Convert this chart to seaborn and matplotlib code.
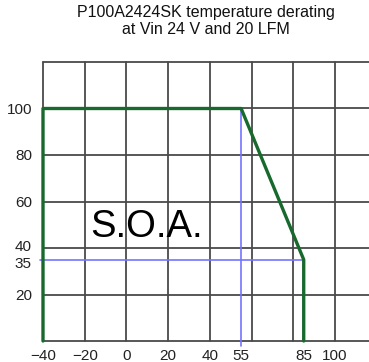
import numpy as np
import matplotlib
matplotlib.use("Agg")
import matplotlib.pyplot as plt
import matplotlib.transforms as mtransforms
import seaborn as sns
import pandas as pd

# derating curve
temp = [-40, -40, 55, 85, 85]
power = [0, 100, 100, 35, 0]

# guide lines
guide_h_x = [-41.5, 85]
guide_h_y = [35, 35]
guide_v_x = [55, 55]
guide_v_y = [100, -2]

xticks = [-40, -20, 0, 20, 40, 55, 85, 100]
yticks = [20, 35, 40, 60, 80, 100]
xgrid = [-40, -20, 0, 20, 40, 60, 80, 100, 120]
ygrid = [20, 40, 60, 80, 100, 120]

GREEN = "#17692c"
BLUE = "#7474ff"
GRID = "#4a4a4a"

sns.set_style("white")
plt.rcParams["font.family"] = ["Liberation Sans", "DejaVu Sans"]

fig = plt.figure(figsize=(3.69, 3.62), dpi=100)
ax = fig.add_axes([43 / 369, 21 / 362, 1 - 43 / 369, 279 / 362])

for gx in xgrid:
    ax.axvline(gx, color=GRID, lw=1.3, zorder=1)
for gy in ygrid:
    ax.axhline(gy, color=GRID, lw=1.3, zorder=1)

df = pd.DataFrame({"t": temp, "p": power})
sns.lineplot(data=df, x="t", y="p", sort=False, estimator=None,
             color=GREEN, lw=2.4, ax=ax, zorder=4)
for ln in ax.get_lines():
    ln.set_clip_on(False)
ax.plot(guide_h_x, guide_h_y, color=BLUE, lw=1.2, zorder=3, clip_on=False)
ax.plot(guide_v_x, guide_v_y, color=BLUE, lw=1.2, zorder=3, clip_on=False)

ax.text(-17.5, 44.8, "S.O.A.", fontsize=27.5, color="black", zorder=5)

ax.set_xlim(-40, 116.3)
ax.set_ylim(0, 120)
ax.set_xticks(xticks)
ax.set_yticks(yticks)
ax.tick_params(length=0, labelsize=11, colors="#222222", pad=6)
ax.tick_params(axis="y", pad=8)
ax.set_xlabel("")
ax.set_ylabel("")
for s in ["top", "right", "left"]:
    ax.spines[s].set_visible(False)
ax.spines["bottom"].set_color(GRID)
ax.spines["bottom"].set_linewidth(1.3)

# nudge the close 40 / 35 labels apart
for lab in ax.get_yticklabels():
    if lab.get_text() == "35":
        lab.set_transform(lab.get_transform() +
                          mtransforms.ScaledTranslation(0, -2 / 72, fig.dpi_scale_trans))
    if lab.get_text() == "40":
        lab.set_transform(lab.get_transform() +
                          mtransforms.ScaledTranslation(0, 2 / 72, fig.dpi_scale_trans))

ax.set_title("P100A2424SK temperature derating\nat Vin 24 V and 20 LFM",
             fontsize=11.5, color="#111111", pad=20, linespacing=1.15)

fig.savefig("out.png", dpi=100)
